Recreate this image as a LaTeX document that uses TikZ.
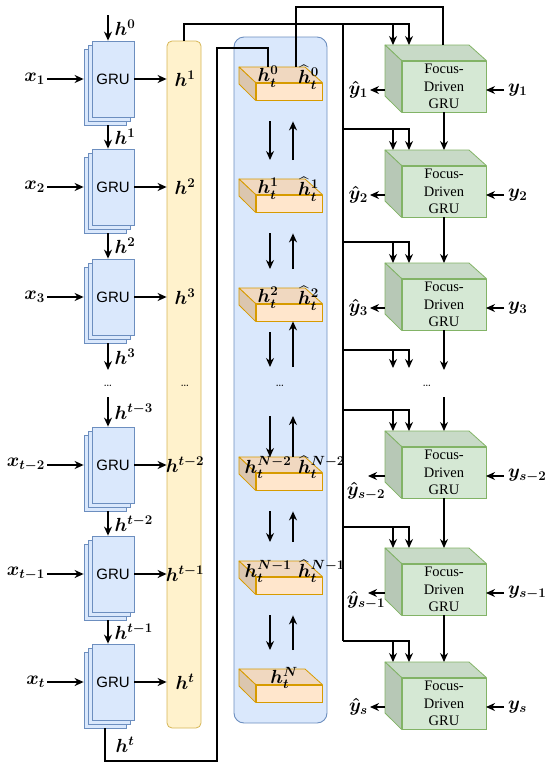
\RequirePackage{fix-cm}
\documentclass[tikz,border=0pt]{standalone}
\usepackage{amsmath}
\usepackage{fontspec}
\newfontfamily\grufont{Liberation Sans}
\newfontfamily\fdfont{Liberation Serif}
\usepackage{tikz}
\usetikzlibrary{arrows.meta,positioning}
\definecolor{grufill}{HTML}{DAE8FC}
\definecolor{gruline}{HTML}{6C8EBF}
\definecolor{colfill}{HTML}{FFF2CC}
\definecolor{colline}{HTML}{D6B656}
\definecolor{slabfill}{HTML}{FFE6CC}
\definecolor{slabline}{HTML}{D79B00}
\definecolor{fdfill}{HTML}{D5E8D4}
\definecolor{fdline}{HTML}{82B366}

\begin{document}
\begin{tikzpicture}[x=1pt,y=-1pt]

\tikzset{
  lbl/.style={font=\fontsize{19}{22}\selectfont\boldmath, inner sep=2pt},
  dotsl/.style={font=\fontsize{14}{16}\selectfont, inner sep=0pt},
  grubox/.style={draw=gruline, fill=grufill, line width=0.8pt,
                 minimum width=42pt, minimum height=76pt, inner sep=0pt,
                 font=\grufont\fontsize{15}{18}\selectfont},
  column/.style={draw=colline, fill=colfill, line width=0.8pt, rounded corners=5pt,
                 minimum width=34pt, minimum height=687pt},
  panel/.style={draw=gruline, fill=grufill, line width=0.9pt, rounded corners=10pt,
                minimum width=93pt, minimum height=686pt},
  slabfront/.style={draw=slabline, fill=slabfill, line width=0.8pt,
                    minimum width=66pt, minimum height=17pt, inner sep=0pt},
  slabtop/.style={draw=slabline, fill=slabfill!94!black, line width=0.8pt, line join=round},
  slabside/.style={draw=slabline, fill=slabfill!86!black, line width=0.8pt, line join=round},
  fdfront/.style={draw=fdline, fill=fdfill, line width=0.8pt,
                  minimum width=84pt, minimum height=51pt, inner sep=0pt, align=center,
                  font=\fdfont\fontsize{14.5}{17.5}\selectfont},
  fdtop/.style={draw=fdline, fill=fdfill!94!black, line width=0.8pt, line join=round},
  fdside/.style={draw=fdline, fill=fdfill!86!black, line width=0.8pt, line join=round},
  wire/.style={line width=1.3pt},
  arr/.style={wire, -{Stealth[length=9pt, width=8pt]}},
  pdown/.style={arr, shorten <=21pt, shorten >=19pt},
  pup/.style={arr, shorten <=19pt, shorten >=21pt}
}

% GRU stack: name, row, input, output
\newcommand{\grustack}[4]{
  \node[grubox] (#1b) at (105,#2+8) {};
  \node[grubox] (#1m) at (109,#2+4) {};
  \node[grubox] (#1) at (113,#2) {GRU};
  \node[lbl, anchor=east] (#1x) at (47,#2) {$#3$};
  \draw[arr] (#1x) -- (#1x -| #1b.west);
  \draw[arr] (#1) -- (#1 -| hcol.west);
  \node[lbl] (#1h) at (185,#2) {$#4$};
}

% hidden state slab: name, top
\newcommand{\slab}[2]{
  \node[slabfront] (#1) at (289,#2+24.5) {};
  \coordinate (#1t) at (239,#2);
  \filldraw[slabtop] (#1.north west) -- (#1t) -- ++(66,0) -- (#1.north east) -- cycle;
  \filldraw[slabside] (#1.north west) -- (#1t) -- ++(0,17) -- (#1.south west) -- cycle;
}

% focus-driven GRU cube: name, top
\newcommand{\fdgru}[2]{
  \node[fdfront] (#1) at (444,#2+41.5) {Focus-\\Driven\\GRU};
  \coordinate (#1t) at (385,#2);
  \coordinate (#1w) at (385,#2+45);
  \coordinate (#1e) at (486,#2+45);
  \coordinate (#1j) at (343,#2-21);
  \filldraw[fdtop] (#1.north west) -- (#1t) -- ++(84,0) -- (#1.north east) -- cycle;
  \filldraw[fdside] (#1.north west) -- (#1t) -- ++(0,51) -- (#1.south west) -- cycle;
}

\useasboundingbox (0,0) rectangle (550,769);

% Columns
\node[column] (hcol) at (184,384.5) {};
\node[panel] (panel) at (280.5,380) {};

% Encoder
\grustack{g1}{79}{x_1}{h^1}
\grustack{g2}{187}{x_2}{h^2}
\grustack{g3}{297}{x_3}{h^3}
\grustack{g4}{465}{x_{t-2}}{h^{t-2}}
\grustack{g5}{574}{x_{t-1}}{h^{t-1}}
\grustack{g6}{682}{x_t}{h^t}

\coordinate (h0) at (108,15);
\coordinate (l3) at (108,370);
\coordinate (l4) at (108,397);
\node[dotsl] (ldots) at (108,386) {\dots};
\node[dotsl] (cdots) at (185,386) {\dots};

\draw[arr] (h0) -- node[lbl, right=4pt] (lh0) {$h^0$} ([xshift=-5pt]g1.north);
\draw[arr] ([xshift=3pt]g1b.south) -- node[lbl, right=4pt] (lh1) {$h^1$} ([xshift=-5pt]g2.north);
\draw[arr] ([xshift=3pt]g2b.south) -- node[lbl, right=4pt] (lh2) {$h^2$} ([xshift=-5pt]g3.north);
\draw[arr] ([xshift=3pt]g3b.south) -- node[lbl, right=4pt] (lh3) {$h^3$} (l3);
\draw[arr] (l4) -- node[lbl, right=4pt] (lh4) {$h^{t-3}$} ([xshift=-5pt]g4.north);
\draw[arr] ([xshift=3pt]g4b.south) -- node[lbl, right=4pt] (lh5) {$h^{t-2}$} ([xshift=-5pt]g5.north);
\draw[arr] ([xshift=3pt]g5b.south) -- node[lbl, right=4pt] (lh6) {$h^{t-1}$} ([xshift=-5pt]g6.north);

% Slabs
\slab{s0}{67}
\slab{s1}{179}
\slab{s2}{288}
\slab{s3}{457}
\slab{s4}{561}
\slab{s5}{669}

\node[lbl] (hs0) at (268,77) {$h_t^0$};
\node[lbl, anchor=west] (hh0) at (296,77) {$\widehat{h}_t^0$};
\node[lbl] (hs1) at (268,189) {$h_t^1$};
\node[lbl, anchor=west] (hh1) at (296,189) {$\widehat{h}_t^1$};
\node[lbl] (hs2) at (268,298) {$h_t^2$};
\node[lbl, anchor=west] (hh2) at (296,298) {$\widehat{h}_t^2$};
\node[lbl] (hs3) at (268,467) {$h_t^{N-2}$};
\node[lbl, anchor=west] (hh3) at (296,467) {$\widehat{h}_t^{N-2}$};
\node[lbl] (hs4) at (268,571) {$h_t^{N-1}$};
\node[lbl, anchor=west] (hh4) at (296,571) {$\widehat{h}_t^{N-1}$};
\node[lbl] (hs5) at (284,678) {$h_t^N$};

\node[dotsl] (pdots) at (280,386) {\dots};
\coordinate (pa) at (270,367);
\coordinate (pb) at (293,367);
\coordinate (pc) at (270,416);
\coordinate (pd) at (293,416);

\draw[pdown] ([xshift=-19pt]s0.south) -- ([xshift=31pt]s1t);
\draw[pup] ([xshift=54pt]s1t) -- ([xshift=4pt]s0.south);
\draw[pdown] ([xshift=-19pt]s1.south) -- ([xshift=31pt]s2t);
\draw[pup] ([xshift=54pt]s2t) -- ([xshift=4pt]s1.south);
\draw[arr, shorten <=11pt] ([xshift=-19pt]s2.south) -- (pa);
\draw[arr] (pb) -- ([xshift=4pt]s2.south);
\draw[arr] (pc) -- ([xshift=31pt]s3t);
\draw[arr] ([xshift=54pt]s3t) -- (pd);
\draw[pdown] ([xshift=-19pt]s3.south) -- ([xshift=31pt]s4t);
\draw[pup] ([xshift=54pt]s4t) -- ([xshift=4pt]s3.south);
\draw[pdown] ([xshift=-19pt]s4.south) -- ([xshift=31pt]s5t);
\draw[pup] ([xshift=54pt]s5t) -- ([xshift=4pt]s4.south);

% Decoder
\fdgru{fd1}{45}
\fdgru{fd2}{150}
\fdgru{fd3}{263}
\fdgru{fd4}{431}
\fdgru{fd5}{548}
\fdgru{fd6}{662}

\node[dotsl] (gdots) at (427,386) {\dots};
\coordinate (gj) at (343,350);
\coordinate (ge1) at (409,368);
\coordinate (ge2) at (393,368);
\coordinate (ge3) at (444,370);
\coordinate (gs4) at (444,397);

\draw[arr] (fd1.south) -- (fd1.south |- fd2t);
\draw[arr] (fd2.south) -- (fd2.south |- fd3t);
\draw[arr] (fd3.south) -- (ge3);
\draw[arr] (gs4) -- (gs4 |- fd4t);
\draw[arr] (fd4.south) -- (fd4.south |- fd5t);
\draw[arr] (fd5.south) -- (fd5.south |- fd6t);

% Outputs and targets
\node[lbl, anchor=east] (yh1) at ([xshift=-15pt]fd1w) {$\hat{y}_1$};
\node[lbl, anchor=east] (yh2) at ([xshift=-15pt]fd2w) {$\hat{y}_2$};
\node[lbl, anchor=east] (yh3) at ([xshift=-15pt]fd3w) {$\hat{y}_3$};
\node[lbl] (yh4) at (366,491) {$\hat{y}_{s-2}$};
\node[lbl] (yh5) at (366,600) {$\hat{y}_{s-1}$};
\node[lbl, anchor=east] (yh6) at ([xshift=-15pt]fd6w) {$\hat{y}_s$};
\coordinate (yq4) at ([xshift=-17pt]fd4w);
\coordinate (yq5) at ([xshift=-17pt]fd5w);
\draw[arr] (fd1w) -- (yh1);
\draw[arr] (fd2w) -- (yh2);
\draw[arr] (fd3w) -- (yh3);
\draw[arr] (fd4w) -- (yq4);
\draw[arr] (fd5w) -- (yq5);
\draw[arr] (fd6w) -- (yh6);

\node[lbl, anchor=west, inner sep=4pt] (y1) at ([xshift=18pt]fd1e) {$y_1$};
\node[lbl, anchor=west, inner sep=4pt] (y2) at ([xshift=18pt]fd2e) {$y_2$};
\node[lbl, anchor=west, inner sep=4pt] (y3) at ([xshift=18pt]fd3e) {$y_3$};
\node[lbl, anchor=west, inner sep=4pt] (y4) at ([xshift=18pt]fd4e) {$y_{s-2}$};
\node[lbl, anchor=west, inner sep=4pt] (y5) at ([xshift=18pt]fd5e) {$y_{s-1}$};
\node[lbl, anchor=west, inner sep=4pt] (y6) at ([xshift=18pt]fd6e) {$y_s$};
\draw[arr] (y1) -- (fd1e);
\draw[arr] (y2) -- (fd2e);
\draw[arr] (y3) -- (fd3e);
\draw[arr] (y4) -- (fd4e);
\draw[arr] (y5) -- (fd5e);
\draw[arr] (y6) -- (fd6e);

% Lines
\coordinate (bus) at (343,24);
\coordinate (c1) at (217,761);
\coordinate (c2) at (268,48);
\coordinate (c3) at (443,7);
\draw[wire] (g6b.south) |- node[lbl, pos=0.25, right=8pt] (lht) {$h^t$} (c1) |- (c2) -- (c2 |- s0t);
\draw[wire] ([xshift=57pt]s0t) |- (c3) -- (c3 |- fd1t);
\draw[arr] (hcol.north) |- ([xshift=24pt,yshift=21pt]fd1t) -- ([xshift=24pt]fd1t);
\draw[arr] ([xshift=8pt,yshift=21pt]fd1t) -- ([xshift=8pt]fd1t);
\draw[wire] (bus) -- (fd6j);
\draw[arr] (fd2j) -| ([xshift=24pt]fd2t);
\draw[arr] ([xshift=8pt,yshift=21pt]fd2t) -- ([xshift=8pt]fd2t);
\draw[arr] (fd3j) -| ([xshift=24pt]fd3t);
\draw[arr] ([xshift=8pt,yshift=21pt]fd3t) -- ([xshift=8pt]fd3t);
\draw[arr] (gj) -| (ge1);
\draw[arr] (ge2 |- gj) -- (ge2);
\draw[arr] (fd4j) -| ([xshift=24pt]fd4t);
\draw[arr] ([xshift=8pt,yshift=21pt]fd4t) -- ([xshift=8pt]fd4t);
\draw[arr] (fd5j) -| ([xshift=24pt]fd5t);
\draw[arr] ([xshift=8pt,yshift=21pt]fd5t) -- ([xshift=8pt]fd5t);
\draw[arr] (fd6j) -| ([xshift=24pt]fd6t);
\draw[arr] ([xshift=8pt,yshift=21pt]fd6t) -- ([xshift=8pt]fd6t);

\end{tikzpicture}
\end{document}
